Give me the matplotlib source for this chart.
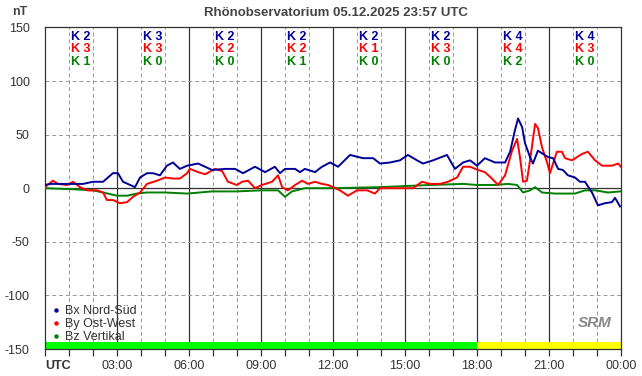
import matplotlib
matplotlib.use("Agg")
import matplotlib.pyplot as plt
from matplotlib.lines import Line2D

plt.rcParams['font.family'] = ['Liberation Sans', 'DejaVu Sans']

# ---------------- data ----------------
bx_t = [0.00, 0.21, 0.62, 1.17, 1.58, 2.00, 2.42, 2.83, 3.04, 3.25, 3.75, 3.96, 4.25, 4.50, 4.79,
        5.08, 5.33, 5.62, 5.92, 6.38, 6.96, 7.50, 7.92, 8.25, 8.75, 9.17, 9.58, 9.79, 10.00, 10.42,
        10.62, 10.83, 11.25, 11.54, 11.88, 12.21, 12.71, 13.25, 13.67, 13.96, 14.38, 14.79, 15.12,
        15.50, 15.75, 16.17, 16.75, 17.08, 17.42, 17.71, 18.00, 18.33, 18.75, 19.17, 19.38, 19.58,
        19.71, 19.88, 20.00, 20.21, 20.33, 20.54, 20.75, 20.96, 21.17, 21.38, 21.58, 21.79, 22.08,
        22.29, 22.50, 22.79, 23.04, 23.33, 23.62, 23.75, 23.96]
bx_v = [3, 4, 4, 4, 4, 6, 6, 14, 14, 6, 1, 10, 14, 14, 12,
        21, 24, 18, 21, 23, 17, 18, 18, 14, 20, 15, 20, 14, 18, 18,
        15, 18, 15, 20, 24, 20, 31, 28, 28, 23, 24, 26, 31,
        26, 23, 26, 31, 18, 24, 26, 21, 28, 24, 24, 34, 54,
        65, 57, 42, 29, 23, 35, 32, 29, 28, 18, 17, 12, 10,
        6, 6, -4, -16, -14, -13, -9, -17]

by_t = [0.00, 0.33, 0.54, 0.92, 1.17, 1.46, 1.75, 2.17, 2.42, 2.58, 2.83, 3.12, 3.42, 3.67, 3.96,
        4.25, 4.67, 5.00, 5.33, 5.62, 5.92, 6.04, 6.38, 6.67, 7.08, 7.38, 7.62, 8.00, 8.21, 8.46,
        8.75, 9.04, 9.46, 9.71, 9.88, 10.12, 10.42, 10.71, 10.96, 11.25, 11.54, 11.79, 12.00, 12.29,
        12.62, 13.00, 13.42, 13.75, 13.96, 14.38, 14.92, 15.33, 15.71, 16.04, 16.46, 16.79, 17.17,
        17.42, 17.71, 18.04, 18.33, 18.62, 18.88, 19.17, 19.46, 19.67, 19.79, 19.92, 20.08, 20.21,
        20.42, 20.54, 20.71, 20.92, 21.04, 21.17, 21.33, 21.54, 21.67, 21.96, 22.38, 22.62, 22.92,
        23.21, 23.62, 23.88, 24.00]
by_v = [1, 7, 4, 3, 6, 1, -2, -2, -4, -11, -11, -14, -13, -8, -4,
        4, 7, 10, 9, 9, 14, 18, 15, 13, 18, 16, 6, 3, 6, 7,
        0, 3, 6, 12, 1, -2, 3, 7, 4, 6, 4, 3, 1, -2,
        -7, -2, -2, -5, 0, 0, 0, 0, 6, 4, 4, 6, 10,
        20, 20, 17, 15, 9, 3, 12, 35, 46, 29, 6, 7, 26,
        60, 56, 38, 24, 14, 23, 34, 34, 28, 26, 32, 34, 26,
        21, 21, 23, 20]

bz_t = [0.00, 1.17, 2.00, 2.42, 3.00, 3.42, 3.83, 4.25, 5.00, 5.92, 6.96, 7.96, 9.04, 9.71, 10.00,
        10.29, 10.83, 12.00, 13.96, 16.04, 17.42, 18.00, 18.75, 19.29, 19.67, 19.92, 20.21, 20.42,
        20.71, 21.25, 22.08, 22.50, 22.92, 23.46, 23.96]
bz_v = [0, -1, -2, -4, -7, -7, -5, -4, -4, -5, -3, -3, -2, -2, -8,
        -3, 0, 0, 1, 3, 4, 3, 3, 4, 3, -4, -2, 1,
        -4, -5, -5, -2, -2, -4, -3]

series_labels = ["Bx Nord-Süd", "By Ost-West", "Bz Vertikal"]
series_colors = ["#000099", "#ff0000", "#008000"]

k_bx = [2, 3, 2, 2, 2, 2, 4, 4]
k_by = [3, 3, 2, 2, 1, 3, 4, 3]
k_bz = [1, 0, 0, 1, 0, 0, 2, 0]
block_status = ["#00ff00"] * 6 + ["#ffff00"] * 2

x_ticklabels = ["UTC", "03:00", "06:00", "09:00", "12:00", "15:00", "18:00", "21:00", "00:00"]
y_ticks = [150, 100, 50, 0, -50, -100, -150]

# ---------------- figure ----------------
fig = plt.figure(figsize=(6.42, 3.76), dpi=100)
ax = fig.add_axes([45 / 642, 1 - 349 / 376, 576 / 642, (349 - 27.4) / 376])
ax.set_xlim(0, 24)
ax.set_ylim(-150, 150)

txtc = "#333333"
# grid
for h in range(1, 24):
    if h % 3 == 0:
        ax.axvline(h, color="#333333", lw=0.9, zorder=1)
    else:
        ax.axvline(h, color="#999999", lw=0.7, ls=(0, (4, 3)), zorder=1)
for yv in [100, 50, -50, -100]:
    ax.axhline(yv, color="#999999", lw=0.7, ls=(0, (4, 3)), zorder=1)
ax.axhline(0, color="#333333", lw=0.9, zorder=1)

# status bar
for i, c in enumerate(block_status):
    ax.broken_barh([(3 * i, 3)], (-150, 6.8), facecolors=c, zorder=2)

# series
ax.plot(bz_t, bz_v, color=series_colors[2], lw=1.4, zorder=3)
ax.plot(by_t, by_v, color=series_colors[1], lw=1.4, zorder=4)
ax.plot(bx_t, bx_v, color=series_colors[0], lw=1.4, zorder=5)

# K indices
for i in range(8):
    xc = 3 * i + 1.5
    for row, (vals, col) in enumerate(zip([k_bx, k_by, k_bz], series_colors)):
        ax.text(xc, 141.5 - row * 12.1, f"K {vals[i]}", color=col, fontsize=9, fontweight="bold",
                ha="center", va="center", zorder=6)

# axes styling
for s in ax.spines.values():
    s.set_color("#333333")
    s.set_linewidth(0.9)
ax.set_xticks(range(0, 25, 3))
ax.set_xticks(range(0, 25), minor=True)
ax.set_xticklabels(x_ticklabels)
ax.tick_params(axis="x", which="both", direction="out", length=5, color="#333333", width=0.9,
               labelsize=9, labelcolor=txtc, pad=3)
ax.get_xticklabels()[0].set_fontweight("bold")
ax.get_xticklabels()[0].set_horizontalalignment("left")
ax.set_yticks(y_ticks)
ax.set_yticklabels([str(v) for v in y_ticks])
ax.tick_params(axis="y", length=0, labelsize=9, labelcolor=txtc, pad=11)

fig.text(336 / 642, 1 - 13 / 376, "Rhönobservatorium 05.12.2025 23:57 UTC", ha="center", va="center",
         fontsize=9.5, fontweight="bold", color="#444444")
fig.text(20 / 642, 1 - 12 / 376, "nT", ha="center", va="center", fontsize=9, fontweight="bold",
         color="#444444")

handles = [Line2D([], [], ls="none", marker="o", markersize=2.2, color=c) for c in series_colors]
ax.legend(handles, series_labels, loc="lower left", bbox_to_anchor=(0.0, -0.005), frameon=False,
          fontsize=9, handlelength=0.6, handletextpad=0.4, labelspacing=0.08, borderaxespad=0.2,
          labelcolor=txtc)

ax.text(0.955, 0.08, "SRM", transform=ax.transAxes, fontsize=11, fontstyle="italic", fontweight="bold",
        color="#888888", ha="center", va="center", zorder=6)

fig.savefig("out.png", dpi=100)
